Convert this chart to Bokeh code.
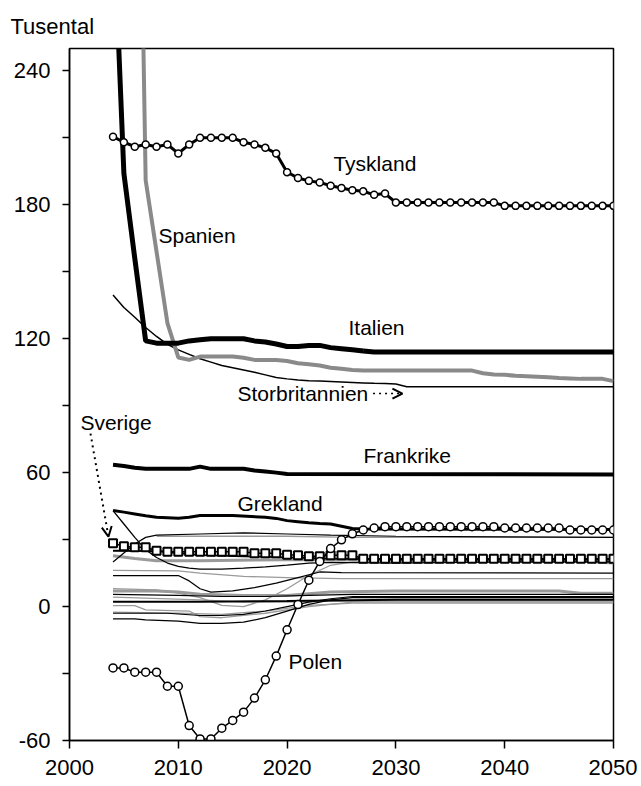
from bokeh.plotting import figure
from bokeh.models import (FixedTicker, Label, Arrow, OpenHead, Range1d)
from bokeh.embed import file_html
from bokeh.resources import INLINE

# ---------------- data ----------------
years = list(range(2004, 2051))

tyskland = [210.5, 208, 206, 207, 206, 207, 203, 207, 210, 210, 210, 210, 208, 207,
            205.5, 203, 194.6, 192, 190.7, 190, 188.5, 187.5, 186.5, 186, 184.5, 185] \
           + [181] * 10 + [179.5] * 11

polen = [-27.5, -27.5, -29.4, -29.4, -29.4, -35.7, -35.7, -53.3, -59.3, -59.3, -54.5,
         -51, -47.3, -41, -32.8, -22.2, -10.4, 0.9, 11.8, 20.2, 26, 29.9, 32.6, 34.3,
         35.2] + [35.8] * 11 + [35.2] * 6 + [34.3] * 5

sverige = [28.4, 27, 26.6, 26.6, 25, 24.6, 24.6, 24.6, 24.6, 24.6, 24.6, 24.6, 24.6,
           23.9, 23.9, 23.9, 23.2, 23, 22.5, 22.5, 23, 23, 23] + [21.4] * 24

italien = [313, 194, 156, 119, 118, 118, 118, 119, 119.5, 120, 120, 120, 120, 119,
           118.5, 117.6, 116.5, 116.5, 117, 117, 116, 115.5, 115, 114.5] + [114] * 23

spanien_years = list(range(2006, 2051))
spanien = [480, 191, 159, 127, 111.6, 110.5, 112, 112, 112, 112, 111.5, 110.5, 110.5,
           110.5, 110, 109, 108.5, 108, 107, 106.5, 106] + [105.7] * 11 + \
          [104.5, 104, 103.8, 103.4, 103.2, 103, 102.7, 102.4, 102.2, 102, 102, 102, 101]

storbr_years = list(range(2004, 2032)) + [2050]
storbr = [139.6, 134, 129.6, 125, 121, 117.5, 115, 113, 111, 109.5, 108, 107, 106, 105,
          103.8, 102.6, 102, 101.5, 101.2, 101, 100.8, 100.6, 100.4, 100.2, 100, 99.9,
          99.7, 98.5, 98.5]

frank_years = [2004, 2005, 2006, 2007, 2011, 2012, 2013, 2016, 2017, 2018, 2019, 2020, 2050]
frankrike = [63.5, 63, 62.2, 61.7, 61.7, 62.7, 61.7, 61.7, 61, 60.5, 60, 59.4, 59.2]

grek_years = [2004, 2005, 2006, 2007, 2008, 2010, 2011, 2012, 2015, 2018, 2019, 2020,
              2021, 2022, 2023, 2024, 2025, 2026, 2027, 2050]
grekland = [43, 42.3, 41.5, 40.7, 40, 39.6, 40, 40.8, 40.8, 40, 39.5, 38.5, 38, 37.5,
            37.2, 37, 36, 35, 34.8, 34.5]

# other (unlabelled) countries
o1_y = [2004, 2005, 2006, 2007, 2008, 2009, 2010, 2011, 2012, 2014, 2016, 2018, 2020, 2022, 2024, 2030, 2040, 2050]
o1_v = [43, 37, 31, 25.5, 22, 19.5, 18, 17.2, 16.8, 16.8, 17.2, 17.8, 18.6, 19.5, 19.8, 19.5, 20, 20]
o2_y = [2004, 2005, 2006, 2007, 2008, 2012, 2016, 2020, 2024, 2030, 2050]
o2_v = [20, 24, 28, 31, 32, 32.5, 33, 32.5, 32, 31.5, 31]
o3_y = [2008, 2020, 2026, 2050]
o3_v = [31.5, 31.5, 31, 31]
o4_y = [2004, 2008, 2010, 2012, 2016, 2020, 2024, 2030, 2050]
o4_v = [25, 24.8, 24, 23, 22.5, 22, 21.5, 21, 21]
o5_y = [2004, 2006, 2008, 2012, 2020, 2030, 2045, 2050]
o5_v = [22.8, 21.5, 20.5, 20.5, 21, 21, 21, 19.5]
o6_y = [2004, 2010, 2012, 2016, 2020, 2025, 2050]
o6_v = [16.2, 16, 15, 13.5, 13, 12.5, 12.5]
o7_y = [2004, 2010, 2011, 2012, 2013, 2015, 2017, 2019, 2021, 2023, 2025, 2050]
o7_v = [13.9, 13.9, 11.5, 8, 6.5, 7, 8.5, 10.5, 13, 15.5, 15.2, 15]
o8_y = [2004, 2008, 2010, 2012, 2014, 2016, 2018, 2020, 2022, 2024, 2026, 2050]
o8_v = [8, 7.5, 6, 4, 0.5, 0, 3, 8, 14, 18.5, 20, 20]
o9_y = [2004, 2010, 2014, 2018, 2022, 2026, 2050]
o9_v = [5.5, 5, 4.5, 4.5, 5, 5.5, 5.5]
o10_y = [2004, 2012, 2020, 2030, 2050]
o10_v = [2.2, 2.2, 2.5, 3, 3]
o11_y = [2004, 2006, 2007, 2011, 2012, 2014, 2018, 2022, 2026, 2050]
o11_v = [0.4, 0.4, -1.5, -2, -4.5, -5, -3, 0, 2, 2]
o12_y = [2004, 2010, 2014, 2018, 2022, 2026, 2050]
o12_v = [-2.5, -3, -3.5, -2, 0.5, 1.5, 1.5]
o13_y = [2004, 2006, 2007, 2010, 2012, 2014, 2016, 2018, 2020, 2022, 2024, 2026, 2050]
o13_v = [-5.5, -5.5, -6, -6.5, -7.5, -7.5, -7, -5, -2, 1, 3, 4, 4]
o14_y = [2004, 2009, 2012, 2014, 2016, 2018, 2020, 2022, 2024, 2026, 2050]
o14_v = [-3, -3, -4, -4, -3.5, -2, 0, 2, 3.5, 4.5, 4.5]
o15_y = [2004, 2008, 2010, 2012, 2016, 2020, 2024, 2030, 2040, 2045, 2047, 2050]
o15_v = [7, 7, 6.5, 5.5, 5, 5, 6.5, 7, 7, 7, 6, 6]
o16_y = [2004, 2012, 2016, 2020, 2024, 2050]
o16_v = [4.2, 3, 2, 2, 2.5, 2.5]

x_ticks = [2000, 2010, 2020, 2030, 2040, 2050]
y_ticks = [-60, -30, 0, 30, 60, 90, 120, 150, 180, 210, 240]
y_labels = {-60: "-60", 0: "0", 60: "60", 120: "120", 180: "180", 240: "240"}

# ---------------- figure ----------------
FONT = "Liberation Sans"
GRAY = "#8a8a8a"
LGRAY = "#9a9a9a"

p = figure(frame_width=544, frame_height=692, output_backend="svg", toolbar_location=None,
           x_range=Range1d(2000, 2050), y_range=Range1d(-60, 250),
           min_border_left=69, min_border_top=48, min_border_right=24, min_border_bottom=45,
           title="Tusental")
p.title.align = "left"
p.title.offset = -59
p.title.text_font = FONT
p.title.text_font_size = "22px"
p.title.text_font_style = "normal"
p.title.text_color = "black"
p.title.standoff = 20
p.xgrid.visible = False
p.ygrid.visible = False
p.outline_line_color = "black"
p.outline_line_width = 1.5
p.background_fill_color = "white"
p.border_fill_color = "white"

for ax in (p.xaxis[0], p.yaxis[0]):
    ax.axis_line_width = 1.5
    ax.major_tick_line_width = 1.5
    ax.major_tick_in = 0
    ax.minor_tick_line_color = None
    ax.major_label_text_font = FONT
    ax.major_label_text_font_size = "22px"
    ax.major_label_text_color = "black"
p.xaxis[0].ticker = FixedTicker(ticks=x_ticks)
p.xaxis[0].major_tick_out = 8
p.xaxis[0].major_label_standoff = 11
p.yaxis[0].ticker = FixedTicker(ticks=y_ticks)
p.yaxis[0].major_tick_out = 7
p.yaxis[0].major_label_standoff = 12
p.yaxis[0].major_label_overrides = {t: y_labels.get(t, "") for t in y_ticks}

others = [
    (o16_y, o16_v, LGRAY, 1.3), (o15_y, o15_v, LGRAY, 3), (o12_y, o12_v, LGRAY, 1.3),
    (o11_y, o11_v, LGRAY, 1.3), (o8_y, o8_v, LGRAY, 1.3), (o6_y, o6_v, LGRAY, 1.3),
    (o5_y, o5_v, LGRAY, 3), (o3_y, o3_v, LGRAY, 1.3),
    (o14_y, o14_v, "black", 1.2), (o13_y, o13_v, "black", 1.3), (o10_y, o10_v, "black", 2),
    (o9_y, o9_v, "black", 1.2), (o7_y, o7_v, "black", 1.2), (o4_y, o4_v, "black", 1.8),
    (o2_y, o2_v, "black", 1.2), (o1_y, o1_v, "black", 1.3),
]
for xs, vs, col, w in others:
    p.line(xs, vs, line_color=col, line_width=w)

p.line(storbr_years, storbr, line_color="black", line_width=1.5)
p.line(frank_years, frankrike, line_color="black", line_width=4)
p.line(grek_years, grekland, line_color="black", line_width=3)
p.line(spanien_years, spanien, line_color=GRAY, line_width=4)
p.line(years, italien, line_color="black", line_width=5)
p.line(years, tyskland, line_color="black", line_width=3)
p.scatter(years, tyskland, marker="circle", size=7, fill_color="white",
          line_color="black", line_width=1.5)
p.line(years, sverige, line_color="black", line_width=1.5)
p.scatter(years, sverige, marker="square", size=8, fill_color="white",
          line_color="black", line_width=2)
p.line(years, polen, line_color="black", line_width=1.5)
p.scatter(years, polen, marker="circle", size=8, fill_color="white",
          line_color="black", line_width=1.5)

# ---------------- labels ----------------
def lab(x, y, t, size="21px"):
    p.add_layout(Label(x=x, y=y, text=t, text_font=FONT, text_font_size=size,
                       text_baseline="middle", text_align="left", text_color="black"))

lab(2024.26, 198.4, "Tyskland")
lab(2008.18, 166.1, "Spanien")
lab(2025.64, 124.9, "Italien")
lab(2015.44, 95.4, "Storbritannien")
lab(2001.0, 82.4, "Sverige")
lab(2027.02, 67.6, "Frankrike")
lab(2015.44, 46.1, "Grekland")
lab(2020.13, -24.6, "Polen")

p.add_layout(Arrow(end=OpenHead(size=10, line_width=2), x_start=2001.93, y_start=77.5,
                   x_end=2003.58, y_end=31.3, line_dash="dotted", line_width=2))
p.add_layout(Arrow(end=OpenHead(size=10, line_width=2), x_start=2027.9, y_start=95.4,
                   x_end=2030.6, y_end=95.4, line_dash="dotted", line_width=1.5))

open("out.html", "w").write(file_html(p, INLINE))
